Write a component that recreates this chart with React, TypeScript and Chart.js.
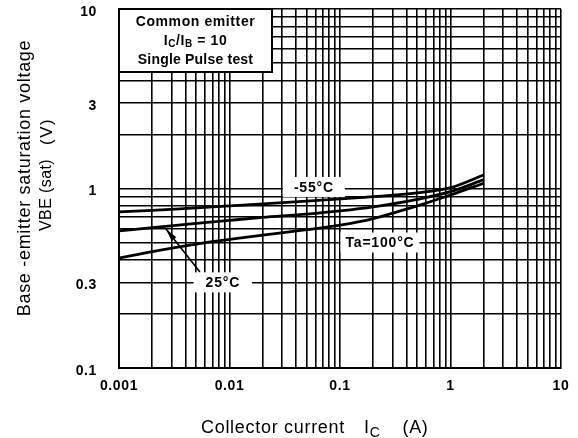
import React, { useEffect, useRef } from 'react';
import { Chart, registerables } from 'chart.js';

Chart.register(...registerables);

// ---- data ----
const currentA = [0.001, 0.002, 0.005, 0.01, 0.02, 0.05, 0.1, 0.2, 0.5, 1, 2];
const vbeMinus55 = [0.74, 0.755, 0.78, 0.8, 0.82, 0.85, 0.875, 0.9, 0.945, 1.01, 1.19];
const vbe25 = [0.58, 0.605, 0.64, 0.665, 0.69, 0.72, 0.75, 0.79, 0.87, 0.96, 1.12];
const vbe100 = [0.41, 0.445, 0.49, 0.52, 0.55, 0.59, 0.625, 0.68, 0.8, 0.92, 1.07];

const gridMantissas = [1, 2, 3, 4, 5, 6, 7, 8, 9];
const xDecades = [0.001, 0.01, 0.1, 1];
const xMaxValue = 10;
const yDecades = [0.1, 1];
const yMaxValue = 10;

const xTickValues = [0.001, 0.01, 0.1, 1, 10];
const xTickLabels = ['0.001', '0.01', '0.1', '1', '10'];
const yTickValues = [0.1, 0.3, 1, 3, 10];
const yTickLabels = ['0.1', '0.3', '1', '3', '10'];

const curveLabels = [
  { text: '-55°C', x: 0.058, y: 1.02, padX: 11 },
  { text: '25°C', x: 0.0087, y: 0.3, padX: 12 },
  { text: 'Ta=100°C', x: 0.23, y: 0.5, padX: 5 },
];
const arrowFrom = { x: 0.0054, y: 0.343 };
const arrowTo = { x: 0.00266, y: 0.595 };

const FONT = '"Liberation Sans", Arial, Helvetica, sans-serif';

const xGrid = [...xDecades.flatMap((d) => gridMantissas.map((m) => m * d)), xMaxValue];
const yGrid = [...yDecades.flatMap((d) => gridMantissas.map((m) => m * d)), yMaxValue];

const near = (a: number, b: number) => Math.abs(a - b) <= Math.abs(b) * 1e-6;

type Run = { text: string; size: number; weight?: string; dy?: number; spacing?: number; gap?: number };

function drawRuns(ctx: any, runs: Run[], x: number, y: number, align: 'left' | 'center') {
  const widths = runs.map((r) => {
    if (r.gap) return r.gap;
    ctx.font = `${r.weight || 'normal'} ${r.size}px ${FONT}`;
    ctx.letterSpacing = `${r.spacing ?? 0.7}px`;
    return ctx.measureText(r.text).width;
  });
  const total = widths.reduce((a, b) => a + b, 0);
  let cx = align === 'center' ? x - total / 2 : x;
  runs.forEach((r, i) => {
    if (!r.gap) {
      ctx.font = `${r.weight || 'normal'} ${r.size}px ${FONT}`;
      ctx.letterSpacing = `${r.spacing ?? 0.7}px`;
      ctx.textAlign = 'left';
      ctx.fillText(r.text, cx, y + (r.dy || 0));
    }
    cx += widths[i];
  });
  ctx.letterSpacing = '0px';
}

const decorPlugin = {
  id: 'decor',
  beforeDraw(chart: any) {
    chart.ctx.letterSpacing = '0.6px';
  },
  beforeDatasetsDraw(chart: any) {
    const ctx = chart.ctx;
    const xs = chart.scales.x;
    const ys = chart.scales.y;
    ctx.save();
    ctx.font = `bold 14px ${FONT}`;
    ctx.letterSpacing = '0.8px';
    curveLabels.forEach((l) => {
      const px = xs.getPixelForValue(l.x);
      const py = ys.getPixelForValue(l.y);
      const w = ctx.measureText(l.text).width;
      ctx.fillStyle = '#fff';
      ctx.fillRect(px - w / 2 - l.padX, py - 10, w + 2 * l.padX, 20);
    });
    ctx.restore();
  },
  afterDatasetsDraw(chart: any) {
    const ctx = chart.ctx;
    const xs = chart.scales.x;
    const ys = chart.scales.y;
    const area = chart.chartArea;
    ctx.save();
    ctx.fillStyle = '#000';
    ctx.textBaseline = 'middle';
    curveLabels.forEach((l) => {
      const px = xs.getPixelForValue(l.x);
      const py = ys.getPixelForValue(l.y);
      drawRuns(ctx, [{ text: l.text, size: 14, weight: 'bold', spacing: 0.8 }], px, py + 1, 'center');
    });

    // arrow for 25°C
    const ax0 = xs.getPixelForValue(arrowFrom.x);
    const ay0 = ys.getPixelForValue(arrowFrom.y);
    const ax1 = xs.getPixelForValue(arrowTo.x);
    const ay1 = ys.getPixelForValue(arrowTo.y);
    ctx.strokeStyle = '#000';
    ctx.lineWidth = 1.6;
    ctx.beginPath();
    ctx.moveTo(ax0, ay0);
    ctx.lineTo(ax1, ay1);
    ctx.stroke();
    const ang = Math.atan2(ay1 - ay0, ax1 - ax0);
    const len = 13;
    const half = 3;
    ctx.beginPath();
    ctx.moveTo(ax1, ay1);
    ctx.lineTo(ax1 - len * Math.cos(ang) + half * Math.sin(ang), ay1 - len * Math.sin(ang) - half * Math.cos(ang));
    ctx.lineTo(ax1 - len * Math.cos(ang) - half * Math.sin(ang), ay1 - len * Math.sin(ang) + half * Math.cos(ang));
    ctx.closePath();
    ctx.fill();

    // legend box
    const bx = area.left;
    const by = area.top;
    const bw = 153;
    const bh = 63;
    ctx.fillStyle = '#fff';
    ctx.fillRect(bx, by, bw, bh);
    ctx.strokeStyle = '#000';
    ctx.lineWidth = 2;
    ctx.strokeRect(bx, by, bw, bh);
    ctx.fillStyle = '#000';
    const cx = bx + bw / 2;
    drawRuns(ctx, [{ text: 'Common emitter', size: 14, weight: 'bold', spacing: 0.6 }], cx, by + 13, 'center');
    drawRuns(
      ctx,
      [
        { text: 'I', size: 14, weight: 'bold', spacing: 0.6 },
        { text: 'C', size: 10, weight: 'bold', dy: 3, spacing: 0.6 },
        { text: '/I', size: 14, weight: 'bold', spacing: 0.6 },
        { text: 'B', size: 10, weight: 'bold', dy: 3, spacing: 0.6 },
        { text: ' = 10', size: 14, weight: 'bold', spacing: 0.6 },
      ],
      cx,
      by + 32,
      'center'
    );
    drawRuns(ctx, [{ text: 'Single Pulse test', size: 14, weight: 'bold', spacing: 0.2 }], cx, by + 51, 'center');

    ctx.restore();
  },
  afterDraw(chart: any) {
    const ctx = chart.ctx;
    ctx.save();
    ctx.fillStyle = '#000';
    ctx.textBaseline = 'alphabetic';
    // x axis title
    drawRuns(
      ctx,
      [
        { text: 'Collector current', size: 18 },
        { text: '', size: 18, gap: 19 },
        { text: 'I', size: 18 },
        { text: 'C', size: 14, dy: 4 },
        { text: '', size: 18, gap: 22 },
        { text: '(A)', size: 18 },
      ],
      201,
      433,
      'left'
    );
    // y axis title
    ctx.textBaseline = 'middle';
    ctx.translate(25, 178);
    ctx.rotate(-Math.PI / 2);
    drawRuns(ctx, [{ text: 'Base -emitter saturation voltage', size: 18 }], 0, 0, 'center');
    ctx.setTransform(1, 0, 0, 1, 0, 0);
    ctx.translate(47, 231);
    ctx.rotate(-Math.PI / 2);
    drawRuns(
      ctx,
      [
        { text: 'VBE (sat)', size: 16, spacing: 0.4 },
        { text: '', size: 16, gap: 14 },
        { text: '(V)', size: 17, spacing: 1.5 },
      ],
      0,
      0,
      'left'
    );
    ctx.restore();
    ctx.letterSpacing = '0px';
  },
};

export default function App() {
  const ref = useRef<HTMLCanvasElement | null>(null);
  useEffect(() => {
    document.body.style.margin = '0';
    const canvas = ref.current;
    if (!canvas) return;
    const mk = (vals: number[]) => currentA.map((x, i) => ({ x, y: vals[i] }));
    const ds = (label: string, vals: number[]) => ({
      label,
      data: mk(vals),
      showLine: true,
      borderColor: '#000',
      borderWidth: 2.8,
      pointRadius: 0,
      cubicInterpolationMode: 'monotone' as const,
      fill: false,
    });
    const chart = new Chart(canvas, {
      type: 'scatter',
      data: {
        datasets: [ds('-55°C', vbeMinus55), ds('25°C', vbe25), ds('100°C', vbe100)],
      },
      options: {
        animation: false,
        responsive: false,
        devicePixelRatio: 1,
        layout: { padding: { top: 9, right: 17, left: 0, bottom: 0 } },
        plugins: { legend: { display: false }, tooltip: { enabled: false } },
        scales: {
          x: {
            type: 'logarithmic',
            min: 0.001,
            max: 10,
            afterBuildTicks: (s: any) => {
              s.ticks = xGrid.map((v) => ({ value: v }));
            },
            afterFit: (s: any) => {
              s.height = 70;
              s.paddingLeft = 0;
              s.paddingRight = 0;
              s.paddingTop = 0;
              s.paddingBottom = 0;
            },
            grid: { color: '#000', lineWidth: 1.6, drawTicks: false },
            border: { display: true, color: '#000', width: 2 },
            ticks: {
              autoSkip: false,
              maxRotation: 0,
              padding: 10,
              color: '#000',
              font: { family: FONT, size: 14, weight: 'bold' },
              callback: (v: any) => {
                const i = xTickValues.findIndex((t) => near(Number(v), t));
                return i >= 0 ? xTickLabels[i] : '';
              },
            },
          },
          y: {
            type: 'logarithmic',
            min: 0.1,
            max: 10,
            afterBuildTicks: (s: any) => {
              s.ticks = yGrid.map((v) => ({ value: v }));
            },
            afterFit: (s: any) => {
              s.width = 119;
              s.paddingLeft = 0;
              s.paddingRight = 0;
              s.paddingTop = 0;
              s.paddingBottom = 0;
            },
            grid: { color: '#000', lineWidth: 1.6, drawTicks: false },
            border: { display: true, color: '#000', width: 2 },
            ticks: {
              autoSkip: false,
              padding: 22,
              labelOffset: 3,
              color: '#000',
              font: { family: FONT, size: 14, weight: 'bold' },
              callback: (v: any) => {
                const i = yTickValues.findIndex((t) => near(Number(v), t));
                return i >= 0 ? yTickLabels[i] : '';
              },
            },
          },
        },
      },
      plugins: [decorPlugin],
    });
    return () => chart.destroy();
  }, []);
  return (
    <div style={{ width: 578, height: 438, background: '#fff' }}>
      <canvas ref={ref} width={578} height={438} style={{ display: 'block' }} />
    </div>
  );
}
